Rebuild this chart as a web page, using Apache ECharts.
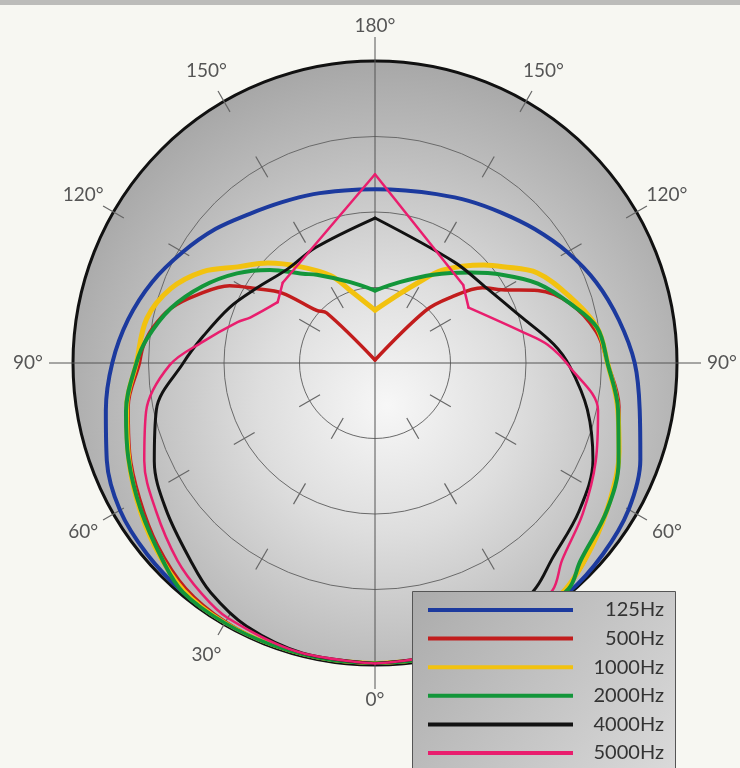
<!DOCTYPE html>
<html>
<head>
<meta charset="utf-8">
<script src="https://cdn.jsdelivr.net/npm/echarts/dist/echarts.min.js"></script>
<style>
html,body{margin:0;padding:0;background:#f7f7f2;}
#c{width:740px;height:768px;}
</style>
</head>
<body>
<div id="c"></div>
<script>
// Frequencies (legend)
const FREQS = ['125Hz', '500Hz', '1000Hz', '2000Hz', '4000Hz', '5000Hz'];
const COLORS = ['#1c3a9e', '#c21d1d', '#f2c20f', '#13963a', '#121212', '#e91e6e'];
const WIDTHS = [4, 3.5, 5, 4, 3, 2.5];

// Each series: [angle (deg, 0 = front/bottom, 90 = left side, 180 = rear, 270 = right side), level dB]
const S125 = [[0,-0.1],[10,-0.1],[20,-0.1],[30,-0.1],[40,-0.2],[50,-0.3],[60,-0.5],[70,-1.1],[80,-1.9],[90,-2.6],[100,-3.4],[110,-4.3],[120,-5.3],[130,-6.2],[140,-7.1],[150,-7.7],[160,-8.1],[170,-8.4],[180,-8.5],[190,-8.4],[200,-8.1],[210,-7.6],[220,-7.0],[230,-6.2],[240,-5.3],[250,-4.4],[260,-3.6],[270,-2.8],[280,-2.2],[290,-1.3],[300,-0.6],[310,-0.3],[320,-0.1],[330,-0.1],[340,-0.1],[350,-0.1],[360,-0.1]];
const S500 = [[0,-0.1],[10,-0.1],[20,-0.1],[30,-0.2],[40,-0.5],[50,-1.2],[60,-2.0],[70,-2.7],[80,-3.4],[90,-4.4],[94,-4.6],[99,-5.1],[105,-6.0],[111,-7.4],[118,-9.1],[122,-10.7],[127,-12.3],[132,-14.8],[136,-15.4],[180,-19.8],[224,-15.2],[229,-13.4],[235,-11.3],[240,-10.3],[246,-8.2],[253,-6.5],[262,-5.2],[270,-4.6],[280,-3.6],[290,-2.8],[300,-2.0],[310,-1.2],[320,-0.4],[330,-0.2],[340,-0.1],[350,-0.1],[360,-0.1]];
const S1000 = [[0,-0.1],[10,-0.1],[20,-0.1],[30,-0.1],[40,-0.3],[50,-1.0],[60,-1.8],[70,-2.6],[80,-3.3],[90,-4.2],[101,-4.6],[110,-5.6],[118,-7.1],[125,-8.9],[133,-10.3],[142,-11.9],[153,-13.5],[161,-14.9],[180,-16.5],[200,-15.1],[208,-14.0],[216,-12.4],[228,-10.3],[233,-9.4],[241,-7.7],[251,-6.4],[261,-5.1],[270,-4.6],[280,-3.7],[290,-2.8],[300,-2.0],[310,-1.2],[320,-0.4],[330,-0.1],[340,-0.1],[350,-0.1],[360,-0.1]];
const S2000 = [[0,-0.1],[10,-0.1],[20,-0.1],[30,-0.1],[40,-0.2],[47,-0.8],[58,-1.7],[69,-2.5],[79,-3.2],[90,-4.2],[96,-4.8],[105,-6.0],[114,-7.5],[123,-9.1],[131.5,-10.7],[141,-12.4],[146.6,-13.0],[163,-14.4],[180,-15.2],[197,-14.4],[213.4,-13.0],[226.5,-11.3],[235.5,-9.7],[244,-8.0],[253,-6.5],[261,-5.1],[270,-4.6],[281,-3.6],[292,-2.6],[302.4,-1.8],[314,-1.1],[319.4,-0.3],[330,-0.1],[340,-0.1],[350,-0.1],[360,-0.1]];
const S4000 = [[0,-0.1],[14,-0.2],[26,-0.6],[35.6,-1.3],[43,-2.1],[55,-3.1],[66,-4.0],[78,-5.2],[90,-7.3],[99,-8.5],[111,-9.7],[122,-10.7],[137,-11.5],[153,-11.4],[180,-10.4],[218,-11.5],[236,-11.1],[252,-9.9],[264,-8.1],[271,-7.1],[282.4,-5.6],[294,-4.2],[306,-3.3],[318,-2.5],[324.3,-1.7],[335,-0.6],[346,-0.2],[360,-0.1]];
const S5000 = [[0,-0.1],[15,-0.2],[30,-0.5],[37,-0.9],[45,-1.5],[56,-2.5],[67,-3.4],[78,-4.5],[89.4,-6.4],[97,-8.5],[106.6,-10.5],[110,-11.2],[122,-12.4],[131,-11.9],[180,-7.5],[228.5,-12.2],[239.4,-12.8],[258.2,-10.0],[264,-8.5],[271.2,-7.1],[282,-4.9],[294,-4.0],[306,-3.0],[316.5,-2.0],[322,-0.9],[330,-0.5],[345,-0.2],[360,-0.1]];
const SERIES = [S125, S500, S1000, S2000, S4000, S5000];

// Angles where a curve has a sharp corner (not smoothed through)
const C125 = [];
const C500 = [180];
const C1000 = [180];
const C2000 = [180];
const C4000 = [180];
const C5000 = [122, 131, 180, 228.5, 239.4];
const CORNERS = [C125, C500, C1000, C2000, C4000, C5000];

// Axes
const DB_MIN = -20, DB_MAX = 0, DB_STEP = 5;
const RINGS = [-15, -10, -5, 0];
const TICK_ANGLES = [30, 60, 120, 150, 210, 240, 300, 330];
const SPOKE_ANGLES = [0, 90, 180, 270];
const LABEL_ANGLES = [0, 30, 60, 90, 120, 150, 180, 210, 240, 270, 300, 330];

// Layout
const CX = 375, CY = 363, R = 302;

const chart = echarts.init(document.getElementById('c'), null, {renderer: 'canvas'});

const tickData = [];
RINGS.forEach(r => TICK_ANGLES.forEach(a => tickData.push([r, a])));

function unitFrom(params, p) {
  const cx = params.coordSys.cx, cy = params.coordSys.cy;
  const dx = p[0] - cx, dy = p[1] - cy;
  const len = Math.sqrt(dx * dx + dy * dy) || 1;
  return {cx: cx, cy: cy, ux: dx / len, uy: dy / len, len: len};
}

function radialLine(params, api, r, a, inner, outer, style) {
  const u = unitFrom(params, api.coord([r, a]));
  return {
    type: 'line',
    shape: {x1: u.cx + u.ux * inner, y1: u.cy + u.uy * inner, x2: u.cx + u.ux * outer, y2: u.cy + u.uy * outer},
    style: style
  };
}

// Split each curve at its corners into smooth pieces sharing the corner points
function pieces(data, corners) {
  const out = [];
  let cur = [];
  data.forEach(d => {
    cur.push(d);
    if (corners.indexOf(d[0]) >= 0) { out.push(cur); cur = [d]; }
  });
  if (cur.length > 1) out.push(cur);
  return out;
}

const lineSeries = [];
SERIES.forEach((s, i) => {
  pieces(s, CORNERS[i]).forEach(part => {
    lineSeries.push({
      name: FREQS[i],
      type: 'line',
      coordinateSystem: 'polar',
      data: part.map(d => [d[1], d[0]]),
      showSymbol: false,
      symbol: 'none',
      smooth: 0.35,
      clip: false,
      lineStyle: {color: COLORS[i], width: WIDTHS[i], join: 'round', cap: 'round'},
      itemStyle: {color: COLORS[i]},
      emphasis: {disabled: true},
      z: 2
    });
  });
});

const option = {
  backgroundColor: '#f7f7f2',
  animation: false,
  graphic: {
    elements: [
      {type: 'rect', z: 0, shape: {x: 0, y: 0, width: 740, height: 5}, style: {fill: '#bcbcba'}},
      {type: 'circle', z: -10, shape: {cx: CX, cy: CY, r: R},
        style: {fill: {type: 'radial', x: 0.52, y: 0.57, r: 0.6, colorStops: [
          {offset: 0, color: '#f7f7f7'}, {offset: 0.35, color: '#dedede'},
          {offset: 0.7, color: '#bdbdbd'}, {offset: 1, color: '#a3a3a3'}]}}},
      {type: 'rect', z: 3, shape: {x: 412.5, y: 591.5, width: 263, height: 200},
        style: {stroke: '#555', lineWidth: 1,
          fill: {type: 'linear', x: 0, y: 0, x2: 1, y2: 1, colorStops: [
            {offset: 0, color: '#ababab'}, {offset: 0.6, color: '#c8c8c8'}, {offset: 1, color: '#dcdcdc'}]}}}
    ]
  },
  polar: {center: [CX, CY], radius: R},
  angleAxis: {
    type: 'value', min: 0, max: 360, interval: 30,
    startAngle: -90, clockwise: true,
    axisLine: {lineStyle: {color: '#111', width: 3}},
    axisTick: {show: false},
    splitLine: {show: false},
    axisLabel: {show: false}
  },
  radiusAxis: {
    type: 'value', min: DB_MIN, max: DB_MAX, interval: DB_STEP,
    axisLine: {show: false}, axisTick: {show: false}, axisLabel: {show: false},
    splitLine: {show: true, lineStyle: {color: '#6a6a6a', width: 1}}
  },
  legend: {
    orient: 'vertical', left: 423, top: 600, padding: [0, 5, 0, 5],
    itemWidth: 145, itemHeight: 4, itemGap: 8.6, icon: 'rect',
    selectedMode: false,
    data: FREQS,
    formatter: name => '{t|' + name + '}',
    textStyle: {rich: {t: {width: 86, align: 'right', fontSize: 20, lineHeight: 20, color: '#333', fontFamily: 'Lato'}}},
    z: 4
  },
  series: [
    {
      type: 'custom', coordinateSystem: 'polar', z: 1, silent: true, clip: false,
      data: SPOKE_ANGLES.map(a => [DB_MAX, a]),
      renderItem: (params, api) => radialLine(params, api, api.value(0), api.value(1), 0, R + 24,
        {stroke: '#555', lineWidth: 1})
    },
    {
      type: 'custom', coordinateSystem: 'polar', z: 1, silent: true, clip: false,
      data: tickData,
      renderItem: (params, api) => {
        const u = unitFrom(params, api.coord([api.value(0), api.value(1)]));
        return radialLine(params, api, api.value(0), api.value(1), u.len - 12, u.len + 12,
          {stroke: '#666', lineWidth: 1.2});
      }
    },
    {
      type: 'custom', coordinateSystem: 'polar', z: 1, silent: true, clip: false,
      data: LABEL_ANGLES.map(a => [DB_MAX, a]),
      renderItem: (params, api) => {
        const a = api.value(1);
        const u = unitFrom(params, api.coord([DB_MAX, a]));
        const side = Math.abs(u.ux) > 0.95;
        const rr = side ? u.len + 30 : u.len + 35;
        return {
          type: 'text',
          x: u.cx + u.ux * rr, y: u.cy + u.uy * rr,
          style: {
            text: (a <= 180 ? a : 360 - a) + '°',
            fill: '#555', fontSize: 19, fontFamily: 'Lato',
            align: side ? (u.ux < 0 ? 'right' : 'left') : 'center',
            verticalAlign: 'middle'
          }
        };
      }
    }
  ].concat(lineSeries)
};
chart.setOption(option);
</script>
</body>
</html>
